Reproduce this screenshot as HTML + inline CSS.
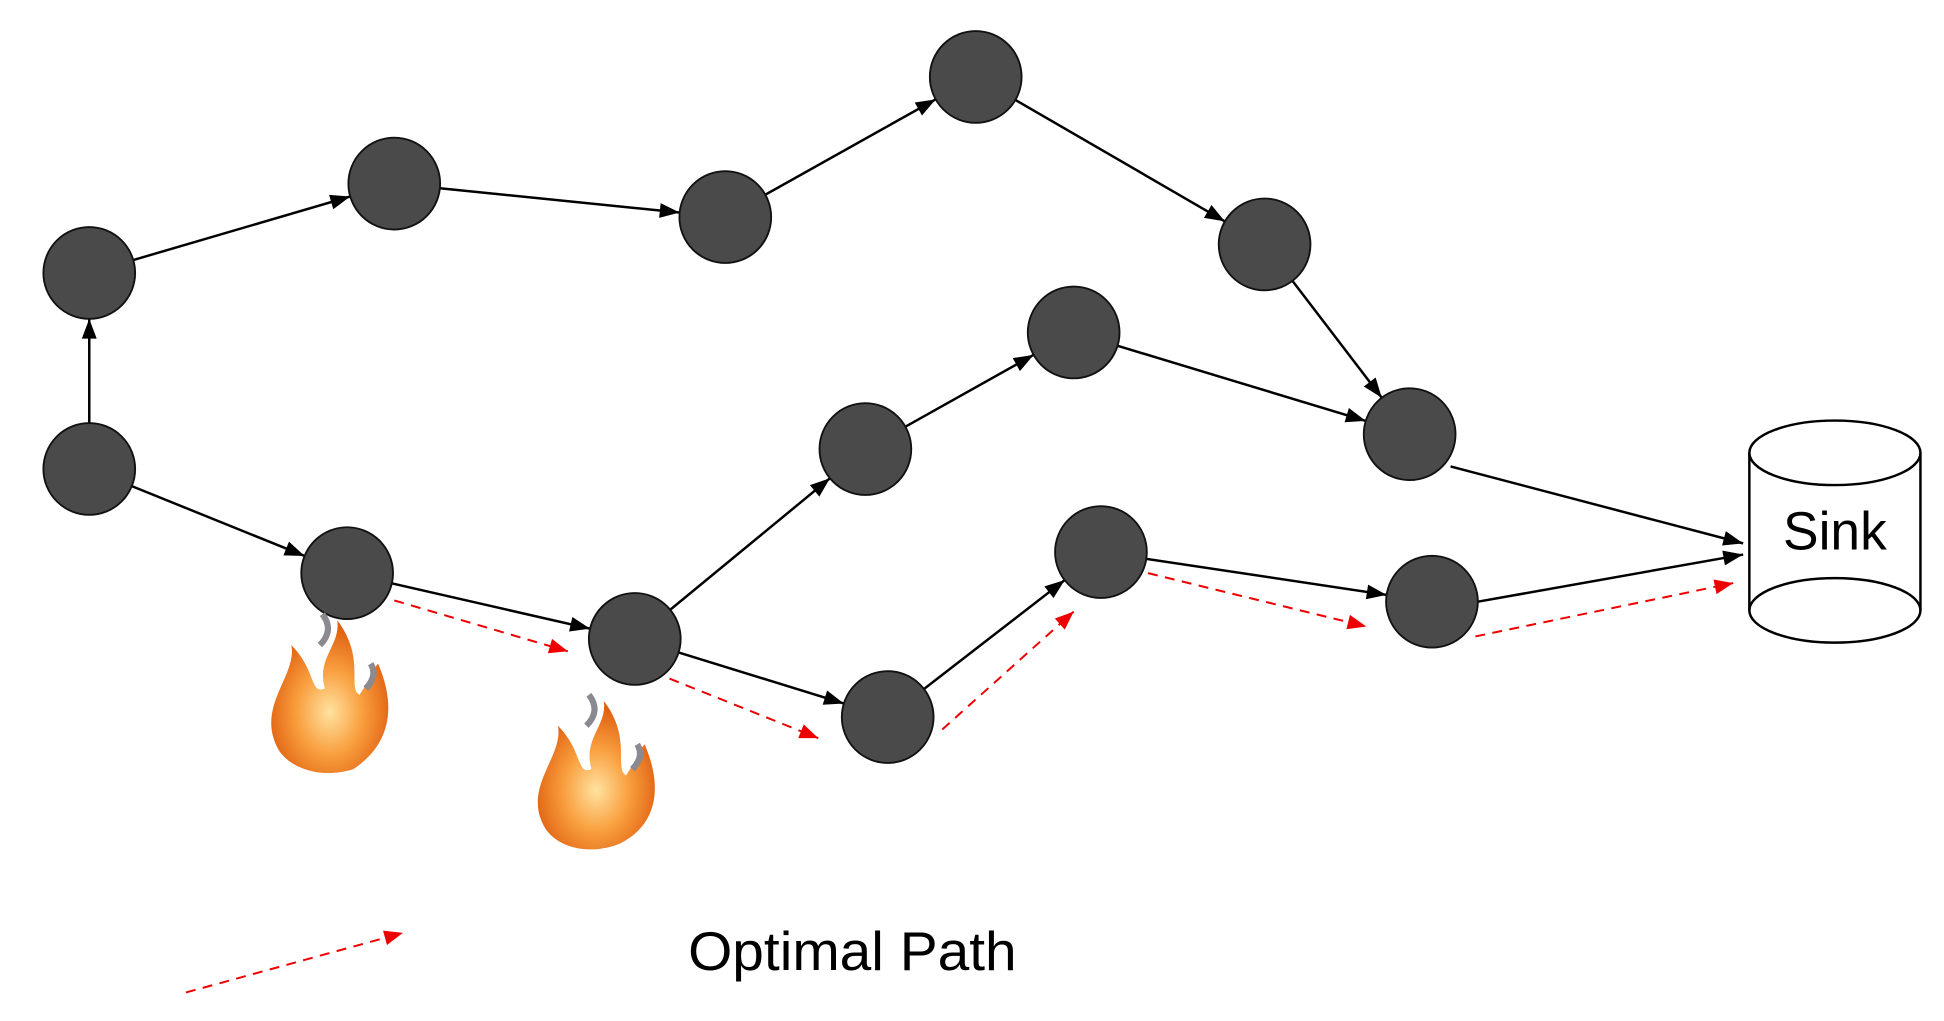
<!DOCTYPE html>
<html><head><meta charset="utf-8"><style>html,body{margin:0;padding:0;background:#fff}svg{display:block}</style></head>
<body>
<svg width="1944" height="1021" viewBox="0 0 1568 823" preserveAspectRatio="none" xmlns="http://www.w3.org/2000/svg">
<defs>
<marker id="n" markerUnits="userSpaceOnUse" markerWidth="10" markerHeight="10" orient="auto" overflow="visible"><path d="M-37,0 L-53,-6 L-53,6 Z" fill="#000"/></marker>
<marker id="t" markerUnits="userSpaceOnUse" markerWidth="10" markerHeight="10" orient="auto" overflow="visible"><path d="M0,0 L-16,-6 L-16,6 Z" fill="#000"/></marker>
<marker id="r" markerUnits="userSpaceOnUse" markerWidth="10" markerHeight="10" orient="auto" overflow="visible"><path d="M0,0 L-15,-6 L-15,6 Z" fill="#e00"/></marker>
<radialGradient id="fl" cx="50%" cy="60%" r="55%"><stop offset="0" stop-color="#ffe2a0"/><stop offset="0.5" stop-color="#f9a040"/><stop offset="1" stop-color="#e06010"/></radialGradient>
</defs>
<g stroke="#000" stroke-width="2" fill="none" marker-end="url(#n)">
<line x1="72" y1="378" x2="72" y2="220"/>
<line x1="72" y1="220" x2="318" y2="148"/>
<line x1="318" y1="148" x2="585" y2="175"/>
<line x1="585" y1="175" x2="787" y2="62"/>
<line x1="787" y1="62" x2="1020" y2="197"/>
<line x1="1020" y1="197" x2="1137" y2="350"/>
<line x1="72" y1="378" x2="280" y2="462"/>
<line x1="280" y1="462" x2="512" y2="515"/>
<line x1="512" y1="515" x2="698" y2="362"/>
<line x1="698" y1="362" x2="866" y2="268"/>
<line x1="866" y1="268" x2="1137" y2="350"/>
<line x1="512" y1="515" x2="716" y2="578"/>
<line x1="716" y1="578" x2="888" y2="445"/>
<line x1="888" y1="445" x2="1155" y2="485"/>
</g>
<g stroke="#000" stroke-width="2" fill="none" marker-end="url(#t)">
<line x1="1170" y1="376" x2="1406" y2="438"/>
<line x1="1192" y1="485" x2="1406" y2="447"/>
</g>
<g stroke="#e00" stroke-width="1.6" stroke-dasharray="8,6" fill="none" marker-end="url(#r)">
<line x1="318" y1="484" x2="458" y2="525"/>
<line x1="540" y1="547" x2="660" y2="595"/>
<line x1="760" y1="588" x2="866" y2="493"/>
<line x1="926" y1="462" x2="1102" y2="505"/>
<line x1="1190" y1="513" x2="1398" y2="470"/>
<line x1="150" y1="800" x2="325" y2="752"/>
</g>
<g fill="#4a4a4a" stroke="#111" stroke-width="1.5">
<circle cx="72" cy="220" r="37"/><circle cx="72" cy="378" r="37"/>
<circle cx="318" cy="148" r="37"/><circle cx="585" cy="175" r="37"/>
<circle cx="787" cy="62" r="37"/><circle cx="1020" cy="197" r="37"/>
<circle cx="280" cy="462" r="37"/><circle cx="512" cy="515" r="37"/>
<circle cx="698" cy="362" r="37"/><circle cx="866" cy="268" r="37"/>
<circle cx="1137" cy="350" r="37"/><circle cx="716" cy="578" r="37"/>
<circle cx="888" cy="445" r="37"/><circle cx="1155" cy="485" r="37"/>
</g>
<g fill="#fff" stroke="#000" stroke-width="2">
<path d="M1411,365 L1411,492 A69,26 0 0 0 1549,492 L1549,365"/>
<ellipse cx="1480" cy="365" rx="69" ry="26"/>
<path d="M1411,492 A69,26 0 0 1 1549,492" fill="none"/>
</g>
<text x="1480" y="443" font-family="Liberation Sans, sans-serif" font-size="43" text-anchor="middle">Sink</text>
<text x="555" y="782" font-family="Liberation Sans, sans-serif" font-size="44" textLength="265" lengthAdjust="spacingAndGlyphs">Optimal Path</text>
<g>
<path d="M225,605 C205,570 240,545 235,520 C255,540 250,560 262,555 C255,530 275,520 272,500 C295,530 280,555 290,560 C300,545 300,540 305,535 C320,570 315,600 285,620 C260,628 235,620 225,605 Z" fill="url(#fl)"/>
<path d="M258,520 q12,-12 2,-25 M295,555 q10,-10 4,-20" stroke="#8a8a90" stroke-width="5" fill="none"/>
<path d="M440,668 C420,635 455,610 450,585 C470,605 465,625 477,620 C470,595 490,585 487,565 C510,595 495,620 505,625 C515,610 515,605 520,600 C535,635 530,665 500,680 C475,690 450,683 440,668 Z" fill="url(#fl)"/>
<path d="M473,585 q12,-12 2,-25 M510,620 q10,-10 4,-20" stroke="#8a8a90" stroke-width="5" fill="none"/>
</g>
</svg>
</body></html>
